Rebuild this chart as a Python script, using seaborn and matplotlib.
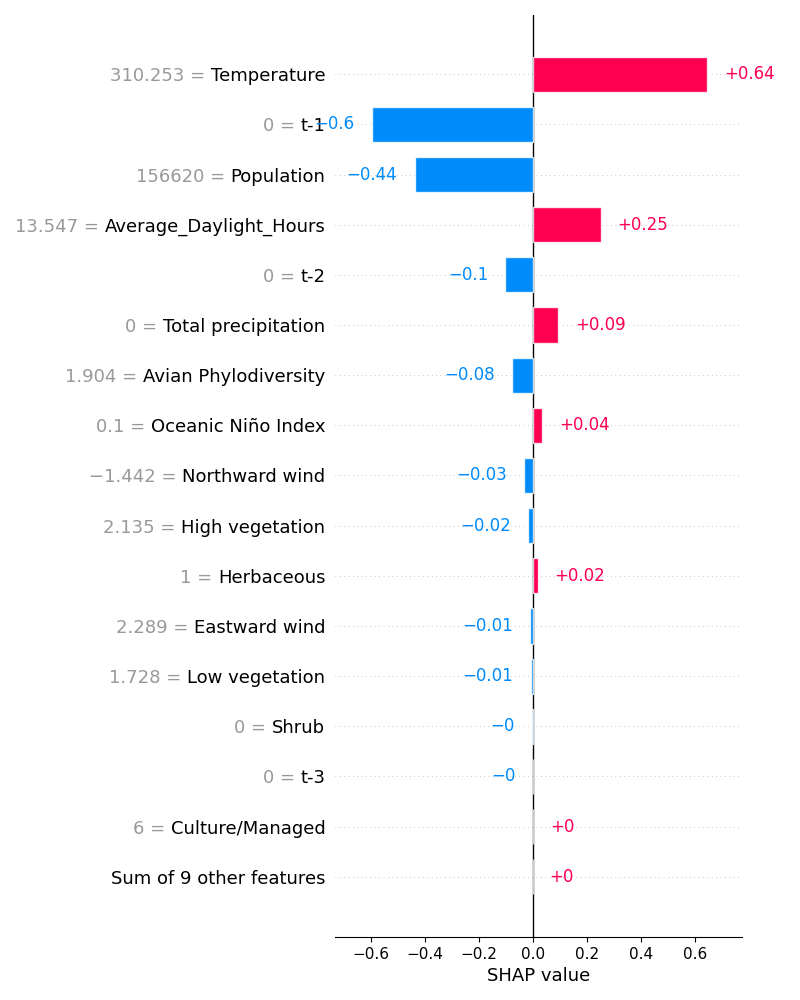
import numpy as np
import pandas as pd
import matplotlib
matplotlib.use("Agg")
import matplotlib.pyplot as plt
import seaborn as sns

# %% Data
features = ["Temperature", "t-1", "Population", "Average_Daylight_Hours", "t-2",
            "Total precipitation", "Avian Phylodiversity", "Oceanic Niño Index",
            "Northward wind", "High vegetation", "Herbaceous", "Eastward wind",
            "Low vegetation", "Shrub", "t-3", "Culture/Managed", "Sum of 9 other features"]
feature_values = ["310.253", "0", "156620", "13.547", "0", "0", "1.904", "0.1",
                  "\u22121.442", "2.135", "1", "2.289", "1.728", "0", "0", "6", ""]
shap_values = [0.644, -0.597, -0.438, 0.251, -0.102, 0.093, -0.078, 0.035,
               -0.032, -0.018, 0.017, -0.011, -0.008, -0.002, -0.001, 0.0005, 0.0002]

red = "#ff0051"
blue = "#008bfb"

df = pd.DataFrame({"feature": features, "shap": shap_values})
df["sign"] = np.where(df["shap"] < 0, "neg", "pos")


def fmt(v):
    s = f"{v:+.2f}".rstrip("0").rstrip(".")
    return s.replace("-", "\u2212")


# %% Plot
sns.set_style("ticks")
plt.rcParams["font.family"] = ["DejaVu Sans"]

fig, ax = plt.subplots(figsize=(8, 10), dpi=100)
ax.set_position([0.41875, 0.063, 0.50875, 0.922])

ax.axvline(0, 0, 1, color="#000000", linestyle="-", linewidth=1, zorder=1)
for i in range(len(features)):
    ax.axhline(i, color="#bbbbbb", lw=0.7, dashes=(0.8, 3.7), zorder=-1)

sns.barplot(data=df, x="shap", y="feature", hue="sign", palette={"pos": red, "neg": blue},
            dodge=False, width=0.7, legend=False, orient="h", ax=ax, saturation=1,
            edgecolor=(1, 1, 1, 0.8), linewidth=1, zorder=2)

for i, v in enumerate(shap_values):
    col = blue if v < 0 else red
    ax.annotate(fmt(v), xy=(v, i), xytext=(-12.5 if v < 0 else 12, 0),
                textcoords="offset points", ha="right" if v < 0 else "left",
                va="center", color=col, fontsize=12)

ax.set_xlim(-0.732, 0.773)
ax.set_ylim(len(features) - 1 + 1.2, -1.18)
ax.set_xticks([-0.6, -0.4, -0.2, 0.0, 0.2, 0.4, 0.6])
ax.tick_params(axis="x", labelsize=11, color="black", labelcolor="black", length=3.5)
ax.tick_params(axis="y", length=0, pad=7, labelsize=13, labelcolor="black")
ax.set_xlabel("SHAP value", fontsize=13, color="black")
ax.set_ylabel("")
for s in ["top", "right", "left"]:
    ax.spines[s].set_visible(False)
ax.spines["bottom"].set_color("black")

# gray "value = " prefixes in front of the feature names
fig.canvas.draw()
renderer = fig.canvas.get_renderer()
for lab, val in zip(ax.get_yticklabels(), feature_values):
    if not val:
        continue
    bb = lab.get_window_extent(renderer)
    x_fig = (bb.x0 - 5.7) / fig.bbox.width
    y_fig = (bb.y0 + bb.y1) / 2 / fig.bbox.height
    fig.text(x_fig, y_fig, val + " =", ha="right", va="center", color="#999999",
             fontsize=13)

fig.savefig("out.png", dpi=100)
